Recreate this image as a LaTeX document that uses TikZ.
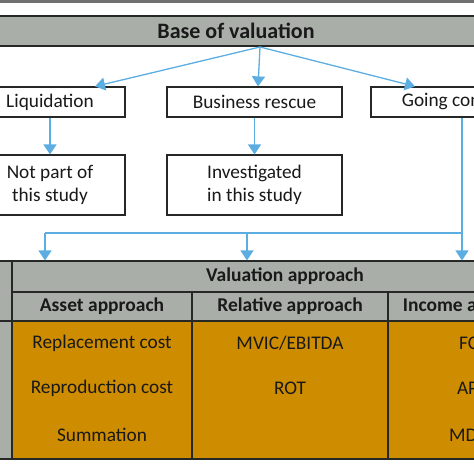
\documentclass[tikz,border=0pt]{standalone}
\usepackage{fontspec}
\setmainfont{Carlito}
\usetikzlibrary{arrows.meta,positioning}

\definecolor{hdrgray}{RGB}{169,175,168}
\definecolor{topgray}{RGB}{112,112,112}
\definecolor{cellorange}{RGB}{206,140,0}
\definecolor{flowblue}{RGB}{92,174,226}
\definecolor{edgegray}{RGB}{38,40,38}
\definecolor{inkgray}{RGB}{25,25,25}

\tikzset{
  txt/.style={font=\fontsize{19.3}{23}\selectfont, text=inkgray},
  boldtxt/.style={font=\fontsize{19.5}{23}\selectfont\bfseries, text=inkgray},
  casebox/.style={txt, draw=edgegray, line width=1.2pt, fill=white,
    minimum height=30pt, inner sep=0pt, align=center},
  hdrcell/.style={boldtxt, draw=edgegray, line width=1.2pt, fill=hdrgray,
    inner sep=0pt},
  bodycell/.style={draw=edgegray, line width=1.2pt, fill=cellorange,
    inner sep=0pt, minimum height=138pt},
  flow/.style={draw=flowblue, line width=1.3pt,
    -{Triangle[width=13pt,length=10pt]}},
  flowline/.style={draw=flowblue, line width=1.3pt},
}

\begin{document}
\begin{tikzpicture}[x=1pt,y=-1pt]
  \useasboundingbox (0,0) rectangle (474,474);
  \clip (0,0) rectangle (474,474);
  % Top rule
  \fill[topgray] (-5,-2) rectangle (480,2.5);
  % Base of valuation
  \node[hdrcell, minimum width=500pt, minimum height=30pt,
    font=\fontsize{22}{26}\selectfont\bfseries] (base) at (236,31) {Base of valuation};
  % Cases
  \node[casebox, minimum width=150pt] (liq) at (50,102) {Liquidation};
  \node[casebox, minimum width=175pt] (rescue) at (254.5,102) {Business rescue};
  \node[casebox, minimum width=175pt] (going) at (458.5,102) {Going concern};
  \node[casebox, minimum width=150pt, minimum height=60pt] (notpart) at (50,185) {Not part of\\this study};
  \node[casebox, minimum width=175pt, minimum height=60pt] (invest) at (254.5,185) {Investigated\\in this study};
  % Arrows from the base
  \coordinate (fork) at (260,47);
  \draw[flow] (fork) -- ([xshift=45pt]liq.north);
  \draw[flow] (fork) -- ([xshift=3.5pt]rescue.north);
  \draw[flow] (fork) -- ([xshift=-43.5pt]going.north);
  \draw[flow] (liq.south) -- (notpart.north);
  \draw[flow] (rescue.south) -- (invest.north);
  % Valuation approach table
  \node[hdrcell, minimum width=17pt, minimum height=60pt] (side) at (3.5,291) {};
  \node[hdrcell, minimum width=17pt, minimum height=138pt] (sidebody) at (3.5,390) {};
  \node[hdrcell, minimum width=546pt, minimum height=31pt] (approach) at (285,276.5) {Valuation approach};
  \node[hdrcell, minimum width=180pt, minimum height=29pt] (asset) at (102,306.5) {Asset approach};
  \node[hdrcell, minimum width=196pt, minimum height=29pt] (relative) at (290,306.5) {Relative approach};
  \node[hdrcell, minimum width=170pt, minimum height=29pt] (income) at (473,306.5) {Income approach};
  \node[bodycell, minimum width=180pt] (assetbody) at (102,390) {};
  \node[bodycell, minimum width=196pt] (relbody) at (290,390) {};
  \node[bodycell, minimum width=170pt] (incbody) at (473,390) {};
  % Methods
  \node[txt] (repl) at (102,343) {Replacement cost};
  \node[txt] (repr) at (102,388) {Reproduction cost};
  \node[txt] (summ) at (102,435) {Summation};
  \node[txt] (mvic) at (290,343) {MVIC/EBITDA};
  \node[txt] (rot) at (290,388) {ROT};
  \node[txt] (fcf) at (473,343) {FCF};
  \node[txt] (apv) at (473,388) {APV};
  \node[txt] (mdcf) at (473,435) {MDCF};
  % Arrows to the table
  \coordinate (gdrop) at ([xshift=3.5pt]going.south);
  \coordinate (gturn) at (gdrop |- 0,233);
  \coordinate (aturn) at (45,233);
  \coordinate (rturn) at (247,233);
  \draw[flowline] (gdrop) -- (gturn) -- (aturn);
  \draw[flow] (gturn) -- (gturn |- approach.north);
  \draw[flow] (aturn) -- (aturn |- approach.north);
  \draw[flow] (rturn) -- (rturn |- approach.north);
\end{tikzpicture}
\end{document}
